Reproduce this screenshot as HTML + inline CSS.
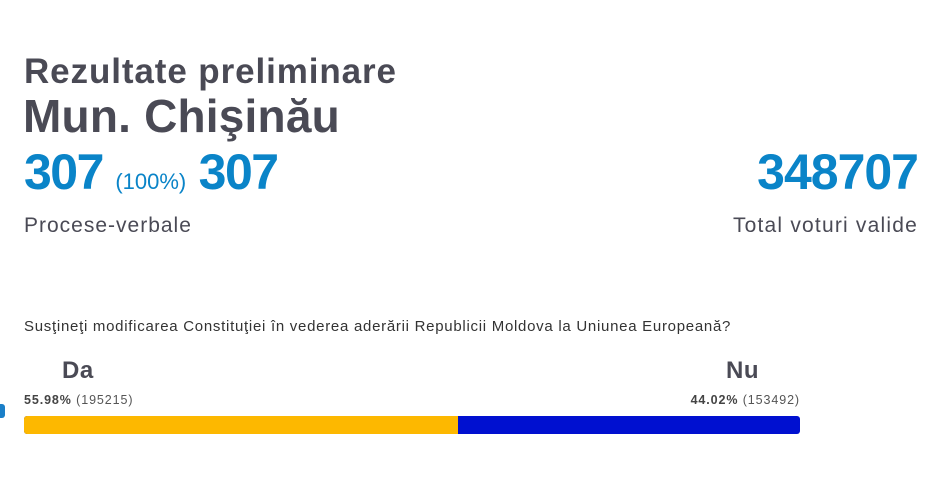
<!DOCTYPE html>
<html><head><meta charset="utf-8"><style>
body{margin:0;width:937px;height:487px;background:#fff;font-family:"Liberation Sans",sans-serif;position:relative;overflow:hidden}
div{position:absolute;white-space:nowrap}
.g{color:#4a4a55}
.b{color:#0a84c8}
</style></head><body>
<div class="g" style="left:24px;top:52px;font-size:35px;font-weight:bold;letter-spacing:0.9px">Rezultate preliminare</div>
<div class="g" style="left:23px;top:89px;font-size:46px;font-weight:bold;letter-spacing:0.2px">Mun. Chişinău</div>
<div class="b" style="left:24px;top:143px;font-size:50px;font-weight:bold;letter-spacing:-1.5px">307 <span style="font-size:22px;font-weight:normal;letter-spacing:0">(100%)</span> 307</div>
<div class="g" style="left:24px;top:214px;font-size:21px;letter-spacing:1px">Procese-verbale</div>
<div class="b" style="right:19px;top:143px;font-size:50px;font-weight:bold;letter-spacing:-1px">348707</div>
<div class="g" style="right:19px;top:214px;font-size:21px;letter-spacing:1.2px">Total voturi valide</div>
<div style="left:24px;top:318px;font-size:15px;color:#333;letter-spacing:0.72px">Susţineţi modificarea Constituţiei în vederea aderării Republicii Moldova la Uniunea Europeană?</div>
<div class="g" style="left:62px;top:357px;font-size:24px;font-weight:bold;letter-spacing:0.5px">Da</div>
<div class="g" style="left:726px;top:357px;font-size:24px;font-weight:bold;letter-spacing:0.5px">Nu</div>
<div style="left:24px;top:393px;font-size:12.5px;color:#555;letter-spacing:0.9px"><b style="color:#444">55.98%</b> (195215)</div>
<div style="right:137px;top:393px;font-size:12.5px;color:#555;letter-spacing:0.9px"><b style="color:#444">44.02%</b> (153492)</div>
<div style="left:24px;top:416px;width:776px;height:18px;border-radius:3px;overflow:hidden;background:#0010d0">
<div style="left:0;top:0;width:434px;height:18px;background:#fdb800"></div></div>
<div style="left:0;top:404px;width:5px;height:14px;background:#1a7fc8;border-radius:0 3px 3px 0"></div>
</body></html>
